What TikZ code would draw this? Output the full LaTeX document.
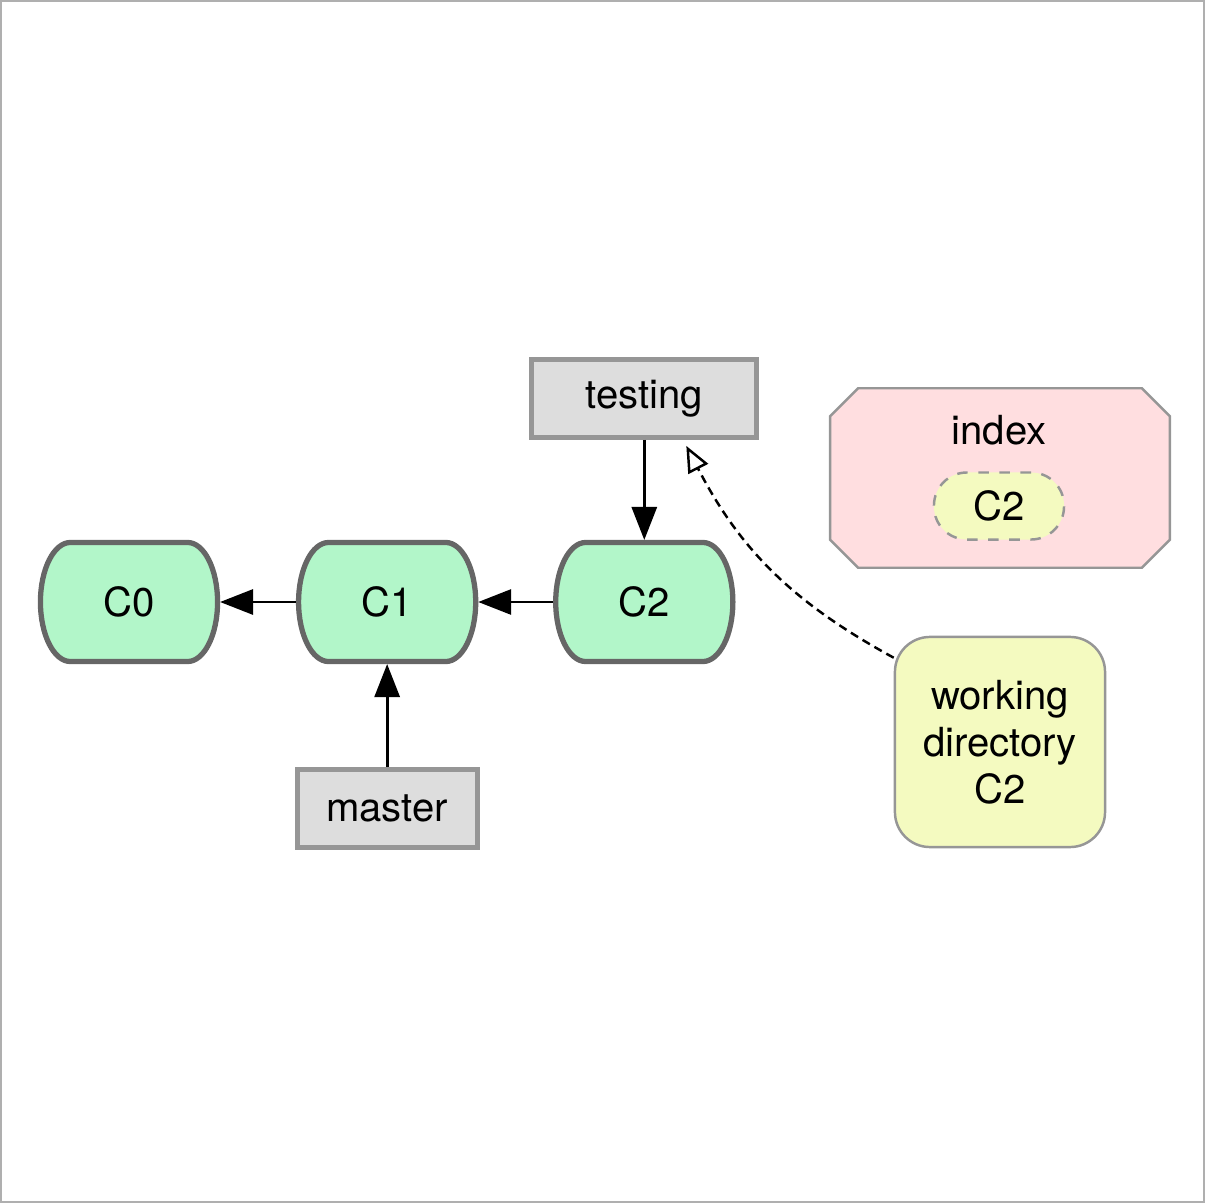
\documentclass[tikz,border=0pt]{standalone}
\usepackage{fontspec}
\setmainfont{TeX Gyre Heros}
\usepackage{tikz}
\usetikzlibrary{
  arrows.meta,
  positioning,
  calc,
  backgrounds
}
\definecolor{commitcolor}{RGB}{178, 246, 201}
\definecolor{commitborder}{RGB}{102, 102, 102}
\definecolor{branchcolor}{RGB}{221, 221, 221}
\definecolor{branchborder}{RGB}{150, 150, 150}
\definecolor{indexcolor}{RGB}{255, 222, 224}
\definecolor{workcolor}{RGB}{244, 250, 192}
\definecolor{thinborder}{RGB}{150, 150, 150}
\definecolor{framecolor}{RGB}{175, 175, 175}
\tikzset{
blocktext/.style={
  align=center,
  font=\fontsize{11.4}{13.4}\selectfont,
  text=black
},
commitblock/.style={
  minimum width=18.2mm,
  minimum height=12.4mm,
  inner sep=0pt,
  outer sep=0pt,
  blocktext
},
commitline/.style={
  draw=commitborder,
  line width=1.5pt,
  fill=commitcolor
},
branchblock/.style={
  draw=branchborder,
  line width=1.4pt,
  fill=branchcolor,
  minimum height=7.8mm,
  inner sep=0pt,
  blocktext
},
indexblock/.style={
  draw=thinborder,
  line width=0.7pt,
  fill=indexcolor
},
stagedblock/.style={
  draw=thinborder,
  line width=0.7pt,
  dashed,
  fill=workcolor,
  rounded corners=3.3mm,
  minimum width=13mm,
  minimum height=6.7mm,
  inner sep=0pt,
  blocktext
},
workblock/.style={
  draw=thinborder,
  line width=0.7pt,
  fill=workcolor,
  rounded corners=3.5mm,
  minimum width=21mm,
  minimum height=21mm,
  inner sep=0pt,
  blocktext
},
arrow/.style={
  -{Triangle[length=3.3mm,width=2.5mm]},
  line width=0.85pt,
  draw=black
},
dashedarrow/.style={
  -{Triangle[open,length=2.6mm,width=2.2mm,fill=white]},
  line width=0.7pt,
  dash pattern=on 2.4pt off 1.5pt,
  draw=black
}
}

\begin{document}
\begin{tikzpicture}[x=0.01cm,y=-0.01cm]
  % page frame
  \useasboundingbox (0,0) rectangle (1205,1203);
  \draw[framecolor, line width=0.5pt] (1,1) rectangle (1204,1202);

  % commits
  \node[commitblock] (c0) at (129,602) {C0};
  \node[commitblock, right=7.6mm of c0] (c1) {C1};
  \node[commitblock, right=7.5mm of c1] (c2) {C2};

  % commit outlines, flat top and bottom, bulging ends
  \begin{scope}[on background layer]
    \foreach \c in {c0,c1,c2}
      \draw[commitline]
        ($(\c.north east)+(-32.5,2.5)$)
        arc[start angle=90, end angle=0, x radius=3mm, y radius=5.95mm]
        arc[start angle=0, end angle=-90, x radius=3mm, y radius=5.95mm]
        -- ($(\c.south west)+(32.5,-2.5)$)
        arc[start angle=270, end angle=180, x radius=3mm, y radius=5.95mm]
        arc[start angle=180, end angle=90, x radius=3mm, y radius=5.95mm]
        -- cycle;
  \end{scope}

  % branches
  \node[branchblock, minimum width=22.5mm, above=10mm of c2] (testing) {testing};
  \node[branchblock, minimum width=18mm, below=10.3mm of c1] (master) {master};

  % index: box with cut corners and the staged snapshot
  \node[minimum width=33.8mm, minimum height=17.8mm, inner sep=0pt] (index) at (1000,478) {};
  \draw[indexblock]
    ($(index.north west)+(28,0)$) -- ($(index.north east)+(-28,0)$)
    -- ($(index.north east)+(0,28)$) -- ($(index.south east)+(0,-28)$)
    -- ($(index.south east)+(-28,0)$) -- ($(index.south west)+(28,0)$)
    -- ($(index.south west)+(0,-28)$) -- ($(index.north west)+(0,28)$)
    -- cycle;
  \node[blocktext] (indexlabel) at (999,430) {index};
  \node[stagedblock] (staged) at (999,506) {C2};

  % working directory
  \node[workblock] (wd) at (1000,742) {working\\directory\\C2};

  \draw[arrow] (c1) -- (c0);
  \draw[arrow] (c2) -- (c1);
  \draw[arrow] (testing) -- (c2);
  \draw[arrow] (master) -- (c1);

  \coordinate (wdtail) at ($(wd.north west)+(0,22)$);
  \coordinate (testtip) at ($(testing.south east)+(-73,6)$);
  \draw[dashedarrow] (wdtail) to[bend left=17] (testtip);
\end{tikzpicture}
\end{document}
